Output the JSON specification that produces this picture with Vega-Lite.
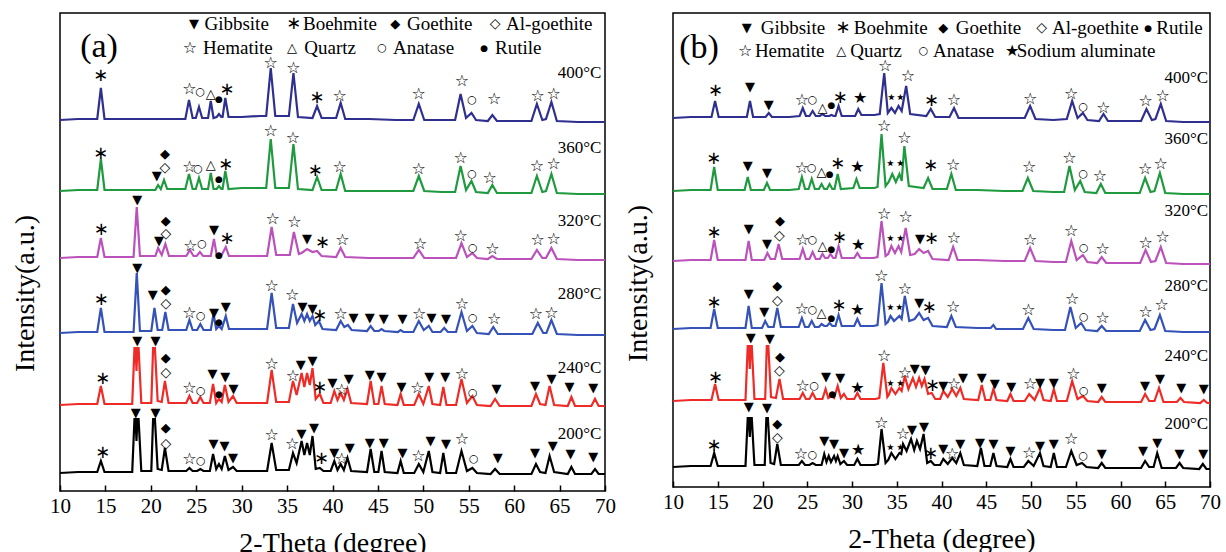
{
  "$schema": "https://vega.github.io/schema/vega-lite/v6.json",
  "background": "white",
  "padding": {"left": 10, "top": 12, "right": 0, "bottom": 0},
  "spacing": 6,
  "config": {
    "view": {"stroke": "black", "strokeWidth": 1.5},
    "axisX": {"labelFont": "Liberation Serif", "labelFontSize": 21, "labelColor": "black", "titleFont": "Liberation Serif", "titleFontSize": 28, "titleFontWeight": "normal", "titleColor": "black", "tickColor": "black", "tickSize": -6, "tickWidth": 1.5, "domain": false, "grid": false, "labelPadding": 10, "titlePadding": 13, "labelFlush": false},
    "axisY": {"labels": false, "ticks": false, "domain": false, "grid": false, "titleFont": "Liberation Serif", "titleFontSize": 28, "titleFontWeight": "normal", "titleColor": "black"}
  },
  "resolve": {"scale": {"x": "independent", "y": "independent"}},
  "datasets": {
    "traces": [
      {"p": "a", "t": "400°C", "pts": [[10,371],[12,372],[14.1,372],[14.5,403],[14.9,372],[17,372],[20,372],[23.8,372],[24.2,391],[24.6,373],[24.95,373],[25.3,384],[25.65,373],[26.3,373],[26.6,390],[26.9,373],[27.25,374],[27.5,377],[27.75,374],[27.9,374],[28.2,393],[28.55,374],[30,374],[32,375],[32.7,375],[33.2,423],[33.7,375],[35.2,375],[35.7,418],[36.2,374],[37.8,373],[38.3,385],[38.8,373],[40.4,373],[40.9,388],[41.4,372],[44,372],[47,371],[48.9,371],[49.5,387],[50.1,371],[52,371],[53.5,371],[54.1,397],[54.7,373],[55.3,378],[55.8,371],[57.1,370],[57.6,376],[58.1,370],[60,370],[61.9,370],[62.5,387],[63.1,371],[63.5,372],[64.1,389],[64.7,370],[67,369],[70,369]]},
      {"p": "a", "t": "360°C", "pts": [[10,300],[12,301],[14.1,301],[14.5,332],[14.9,301],[17,301],[20.5,301],[20.8,306],[21.1,302],[21.45,311],[21.8,302],[23.8,302],[24.2,317],[24.6,302],[24.95,302],[25.3,313],[25.65,302],[26.3,302],[26.6,318],[26.9,302],[27.25,302],[27.5,305],[27.75,302],[27.9,302],[28.2,320],[28.55,302],[30,303],[32,303],[32.7,303],[33.2,352],[33.7,303],[35.2,303],[35.7,347],[36.2,302],[37.8,301],[38.3,314],[38.8,301],[40.4,301],[40.9,317],[41.4,300],[44,300],[47,300],[48.9,300],[49.5,315],[50.1,300],[52,299],[53.5,299],[54.1,325],[54.7,301],[55.3,310],[55.8,299],[57.1,298],[57.6,306],[58.1,298],[60,298],[61.9,298],[62.5,315],[63.1,299],[63.5,300],[64.1,317],[64.7,298],[67,297],[70,297]]},
      {"p": "a", "t": "320°C", "pts": [[10,233],[12,234],[14.1,234],[14.5,253],[14.9,234],[17,234],[18.1,234],[18.45,284],[18.8,235],[20.5,235],[20.8,243],[21.2,236],[21.6,247],[22.0,235],[23.9,235],[24.3,241],[24.7,235],[25.05,235],[25.4,239],[25.75,235],[26.6,235],[26.95,252],[27.25,236],[27.5,237],[27.8,236],[28.25,244],[28.6,235],[30,235],[32,235],[32.8,235],[33.3,264],[33.8,236],[35.3,236],[35.75,259],[36.3,237],[36.6,238],[37.2,242],[37.8,239],[38.3,240],[38.8,235],[40.4,234],[40.9,243],[41.4,234],[44,233],[47,233],[48.9,233],[49.5,241],[50.1,233],[52,233],[53.6,233],[54.2,248],[54.8,234],[55.4,238],[55.9,233],[57.1,232],[57.6,235],[58.1,232],[60,232],[61.9,232],[62.5,241],[63.1,233],[63.5,233],[64.1,243],[64.7,232],[67,231],[70,231]]},
      {"p": "a", "t": "280°C", "pts": [[10,158],[12,159],[14.1,159],[14.5,183],[14.9,159],[17,159],[18.1,159],[18.45,218],[18.8,160],[20.05,160],[20.4,183],[20.75,161],[21.25,161],[21.6,179],[21.95,161],[23.9,161],[24.25,171],[24.6,161],[25.1,161],[25.45,167],[25.8,161],[26.6,161],[26.9,177],[27.2,162],[27.5,165],[27.8,162],[28.25,175],[28.6,162],[30,162],[32,162],[32.8,162],[33.3,198],[33.8,163],[35.2,163],[35.65,187],[36.1,168],[36.6,177],[36.9,170],[37.2,177],[37.5,170],[37.8,175],[38.1,166],[38.5,170],[38.9,162],[40.4,161],[40.9,170],[41.3,164],[41.7,166],[42.1,161],[43.8,160],[44.2,165],[44.6,160],[45.1,160],[45.4,162],[45.7,160],[47.2,159],[47.5,161],[47.8,159],[48.9,159],[49.5,170],[50.05,161],[50.6,165],[51.0,159],[51.9,159],[52.3,163],[52.7,159],[53.6,159],[54.2,179],[54.8,160],[55.4,165],[55.9,158],[57.2,157],[57.7,164],[58.2,157],[60,157],[62.0,157],[62.6,168],[63.2,158],[63.55,158],[64.1,171],[64.7,157],[67,156],[70,156]]},
      {"p": "a", "t": "240°C", "pts": [[10,86],[12,87],[14.1,87],[14.5,105],[14.9,87],[17,87],[17.95,87],[18.2,143],[18.32,143],[18.42,120],[18.52,143],[18.65,143],[18.95,88],[19.6,88],[20.05,88],[20.25,143],[20.45,143],[20.75,90],[21.2,89],[21.55,110],[21.95,88],[23.9,88],[24.25,95],[24.6,88],[25.1,88],[25.45,94],[25.8,88],[26.5,88],[26.85,107],[27.2,88],[27.5,92],[27.8,89],[28.15,106],[28.55,89],[29.05,95],[29.45,88],[30.5,88],[32,88],[32.8,88],[33.3,121],[33.8,89],[35.2,89],[35.65,110],[36.05,96],[36.6,118],[36.9,104],[37.2,118],[37.5,106],[37.8,123],[38.15,92],[38.6,97],[39.0,88],[39.8,88],[40.2,100],[40.55,91],[40.9,98],[41.25,91],[41.65,102],[42.05,88],[43.8,87],[44.2,110],[44.6,87],[45.05,87],[45.4,105],[45.75,87],[47.15,86],[47.5,97],[47.85,86],[49.0,86],[49.5,97],[50.0,87],[50.6,105],[51.0,87],[51.85,86],[52.2,104],[52.55,86],[53.6,86],[54.2,112],[54.8,88],[55.4,95],[55.9,86],[57.4,85],[57.9,92],[58.4,85],[60,85],[61.9,85],[62.4,97],[62.85,87],[63.45,86],[63.9,105],[64.4,86],[65.9,85],[66.3,94],[66.7,85],[68.5,85],[68.9,92],[69.3,85],[70,85]]},
      {"p": "a", "t": "200°C", "pts": [[10,18],[12,19],[14.1,19],[14.5,30],[14.9,19],[17,19],[17.95,19],[18.2,72],[18.32,72],[18.42,50],[18.52,72],[18.65,72],[18.95,20],[19.6,20],[20.05,20],[20.25,72],[20.45,72],[20.75,22],[21.2,21],[21.55,43],[21.95,20],[23.9,20],[24.25,23],[24.6,20],[25.1,20],[25.45,22],[25.8,20],[26.5,20],[26.85,37],[27.2,22],[27.5,27],[27.8,22],[28.15,35],[28.55,21],[29.05,24],[29.45,20],[30.5,20],[32,20],[32.8,20],[33.3,48],[33.8,21],[35.2,21],[35.65,38],[36.05,28],[36.6,50],[36.9,36],[37.2,48],[37.5,36],[37.8,55],[38.15,22],[38.6,23],[39.0,20],[39.8,20],[40.2,30],[40.55,21],[40.9,27],[41.25,21],[41.65,33],[42.05,20],[43.8,19],[44.2,42],[44.6,19],[45.05,19],[45.4,40],[45.75,19],[47.15,18],[47.5,30],[47.85,18],[49.0,18],[49.5,27],[50.0,19],[50.6,40],[51.0,19],[51.85,18],[52.2,38],[52.55,18],[53.6,18],[54.2,40],[54.8,20],[55.4,23],[55.9,18],[57.4,17],[57.9,22],[58.4,17],[60,17],[61.9,17],[62.4,27],[62.85,19],[63.45,18],[63.9,35],[64.4,19],[65.9,17],[66.3,24],[66.7,17],[68.5,17],[68.9,22],[69.3,17],[70,17]]},
      {"p": "b", "t": "400°C", "pts": [[10,369],[12,370],[14.3,370],[14.7,386],[15.1,370],[17,370],[18.25,370],[18.6,386],[18.95,370],[20.35,370],[20.7,374],[21.05,370],[23,370],[24.15,371],[24.5,379],[24.85,371],[25.25,371],[25.6,376],[25.95,371],[26.4,371],[26.7,373],[27.0,371],[27.45,371],[27.7,372],[27.95,371],[28.15,371],[28.5,381],[28.85,371],[30.35,371],[30.7,378],[31.05,372],[32.5,372],[33.1,373],[33.6,414],[34.0,374],[34.4,379],[34.8,374],[35.2,381],[35.55,376],[36.05,401],[36.5,373],[38.3,371],[38.8,378],[39.3,370],[40.9,370],[41.4,379],[41.9,369],[44,369],[47,369],[49.3,369],[49.9,381],[50.5,368],[52.5,367],[54.0,368],[54.6,386],[55.2,369],[55.8,374],[56.3,367],[57.6,366],[58.1,373],[58.6,366],[60.5,366],[62.3,366],[62.9,378],[63.5,367],[63.9,368],[64.5,383],[65.1,366],[67,365],[70,365]]},
      {"p": "b", "t": "360°C", "pts": [[10,296],[12,297],[14.2,297],[14.6,320],[15.0,297],[17,297],[18.0,297],[18.35,310],[18.7,297],[20.15,297],[20.5,304],[20.85,297],[23,297],[24.05,298],[24.4,310],[24.75,298],[25.15,298],[25.5,308],[25.85,298],[26.3,298],[26.6,303],[26.9,298],[27.2,298],[27.5,303],[27.8,298],[28.05,298],[28.4,313],[28.75,298],[30.15,299],[30.5,308],[30.85,299],[32.5,299],[32.85,300],[33.3,353],[33.75,301],[34.1,305],[34.5,313],[34.9,305],[35.3,313],[35.55,306],[35.85,341],[36.35,301],[38.0,299],[38.5,309],[39.0,298],[40.6,298],[41.1,313],[41.6,297],[44,297],[47,296],[49.05,296],[49.65,309],[50.25,296],[52.5,295],[53.7,295],[54.3,321],[54.9,297],[55.5,306],[56.0,295],[57.3,294],[57.8,303],[58.3,294],[60.5,294],[62.15,294],[62.75,309],[63.35,295],[63.8,296],[64.4,314],[65.0,294],[67,293],[70,293]]},
      {"p": "b", "t": "320°C", "pts": [[10,226],[12,227],[14.2,227],[14.6,247],[15.0,227],[17,227],[18.1,227],[18.45,246],[18.8,227],[20.2,227],[20.55,234],[20.9,228],[21.4,228],[21.8,243],[22.2,228],[24.15,228],[24.5,238],[24.85,228],[25.25,228],[25.6,235],[25.95,228],[26.4,228],[26.7,233],[27.0,229],[27.3,229],[27.6,233],[27.9,229],[28.15,229],[28.5,241],[28.85,229],[30.25,229],[30.6,234],[30.95,229],[32.4,229],[32.85,230],[33.3,266],[33.75,231],[34.05,233],[34.4,241],[34.8,234],[35.2,241],[35.5,235],[36.0,259],[36.5,232],[37.0,233],[37.5,238],[38.0,234],[38.5,236],[39.0,228],[40.8,227],[41.3,240],[41.8,227],[44,227],[47,226],[49.3,226],[49.9,239],[50.5,226],[52.5,225],[53.9,225],[54.5,246],[55.1,227],[55.8,232],[56.3,225],[57.4,224],[57.9,230],[58.4,224],[60.5,224],[62.2,224],[62.8,237],[63.4,225],[63.9,226],[64.5,240],[65.1,224],[67,223],[70,223]]},
      {"p": "b", "t": "280°C", "pts": [[10,158],[12,159],[14.2,159],[14.6,178],[15.0,159],[17,159],[18.1,159],[18.45,181],[18.8,159],[19.95,159],[20.3,166],[20.65,160],[21.25,160],[21.65,179],[22.05,160],[24.05,160],[24.4,169],[24.75,160],[25.15,160],[25.5,166],[25.85,160],[26.3,160],[26.6,163],[26.9,161],[27.2,161],[27.5,164],[27.8,161],[28.15,161],[28.5,172],[28.85,161],[30.25,161],[30.6,168],[30.95,161],[32.4,161],[32.85,162],[33.3,204],[33.75,163],[34.0,165],[34.3,171],[34.7,166],[35.3,171],[35.55,168],[35.9,191],[36.4,166],[37.0,168],[37.5,174],[38.0,167],[38.5,169],[39.0,161],[40.6,160],[41.1,171],[41.6,160],[44,159],[45.5,159],[45.8,162],[46.1,158],[49.1,158],[49.7,169],[50.3,158],[52.5,157],[53.8,157],[54.4,180],[55.0,159],[55.6,164],[56.1,157],[57.4,156],[57.9,161],[58.4,156],[60.5,156],[62.15,156],[62.75,167],[63.35,157],[63.8,158],[64.4,172],[65.0,156],[67,155],[70,155]]},
      {"p": "b", "t": "240°C", "pts": [[10,86],[12,87],[14.3,87],[14.7,103],[15.1,87],[17,87],[18.1,87],[18.35,141],[18.48,141],[18.58,118],[18.68,141],[18.8,141],[19.1,88],[19.8,88],[20.3,88],[20.48,141],[20.65,141],[20.95,90],[21.5,89],[21.9,108],[22.3,88],[24.15,88],[24.5,94],[24.85,88],[25.25,88],[25.6,94],[25.95,88],[26.7,88],[27.05,98],[27.35,89],[27.7,91],[28.0,89],[28.4,101],[28.75,89],[29.1,93],[29.45,88],[30.25,88],[30.6,94],[30.95,88],[32.6,88],[33.05,89],[33.5,124],[33.95,90],[34.1,92],[34.4,99],[34.85,93],[35.3,99],[35.55,96],[35.9,111],[36.3,98],[36.8,109],[37.15,100],[37.5,109],[37.8,101],[38.1,108],[38.5,93],[38.9,94],[39.3,88],[39.85,88],[40.2,96],[40.7,90],[41.2,98],[41.65,91],[42.1,99],[42.5,88],[44.1,87],[44.5,102],[44.9,87],[45.45,87],[45.8,98],[46.15,87],[47.35,86],[47.7,93],[48.05,86],[49.3,86],[49.8,93],[50.4,87],[51.0,99],[51.4,87],[52.2,86],[52.55,98],[52.9,86],[54.0,86],[54.6,106],[55.2,88],[55.8,91],[56.3,86],[57.5,85],[57.9,90],[58.3,85],[60.5,85],[62.3,85],[62.75,93],[63.2,86],[63.8,86],[64.3,99],[64.8,85],[66.3,85],[66.7,89],[67.1,85],[68.9,84],[69.3,87],[69.7,84],[70,84]]},
      {"p": "b", "t": "200°C", "pts": [[10,20],[12,21],[14.2,21],[14.6,34],[15.0,21],[17,21],[18.1,21],[18.35,69],[18.48,69],[18.58,50],[18.68,69],[18.8,69],[19.1,22],[19.8,22],[20.25,22],[20.43,69],[20.6,69],[20.9,24],[21.3,23],[21.65,43],[22.05,22],[24.05,22],[24.4,26],[24.75,22],[25.25,22],[25.6,24],[25.95,22],[26.6,22],[26.9,33],[27.15,25],[27.4,31],[27.65,25],[28.0,31],[28.2,26],[28.4,31],[28.7,23],[29.1,26],[29.45,22],[30.25,22],[30.6,28],[30.95,22],[32.5,22],[32.9,23],[33.3,58],[33.75,24],[34.05,27],[34.4,34],[34.85,28],[35.3,34],[35.5,33],[35.7,43],[36.1,36],[36.6,48],[36.95,37],[37.25,46],[37.6,38],[38.0,53],[38.4,24],[38.8,26],[39.2,22],[39.85,22],[40.2,28],[40.7,23],[41.2,29],[41.65,24],[42.1,34],[42.5,22],[44.0,21],[44.4,39],[44.8,21],[45.45,21],[45.8,34],[46.15,21],[47.35,20],[47.7,28],[48.05,20],[49.2,20],[49.7,26],[50.3,21],[51.0,34],[51.4,21],[52.2,20],[52.55,34],[52.9,20],[53.9,20],[54.5,36],[55.1,22],[55.7,24],[56.2,20],[57.5,19],[57.9,24],[58.3,19],[60.5,19],[62.3,19],[62.75,26],[63.2,20],[63.7,20],[64.1,34],[64.6,19],[66.2,19],[66.6,24],[67.0,19],[68.8,18],[69.2,23],[69.6,18],[70,18]]}
    ],
    "marks": [
      {"p": "a", "m": [[24.75,467,"▼"],[35.75,467,"∗"],[46.9,467,"◆"],[57.9,467,"◇"],[24.3,443,"☆"],[35.55,443,"△"],[45.45,443,"○"],[56.7,443,"●"]]},
      {"p": "a", "m": [[14.5,415,"∗"],[24.25,402,"☆"],[25.45,399,"○"],[26.6,397,"△"],[27.5,392,"●"],[28.4,401,"∗"],[33.2,428,"☆"],[35.7,423,"☆"],[38.3,393,"∗"],[40.8,395,"☆"],[49.5,397,"☆"],[54.25,410,"☆"],[55.35,391,"○"],[57.8,392,"☆"],[62.6,395,"☆"],[64.35,397,"☆"]]},
      {"p": "a", "m": [[14.5,337,"∗"],[20.65,315,"▼"],[21.55,337,"◆"],[21.55,323,"◇"],[24.25,324,"☆"],[25.2,322,"○"],[26.6,326,"△"],[27.5,312,"●"],[28.25,326,"∗"],[33.2,360,"☆"],[35.65,353,"☆"],[38.1,320,"∗"],[40.8,324,"☆"],[49.5,322,"☆"],[54.1,333,"☆"],[55.35,317,"○"],[57.3,313,"☆"],[62.5,325,"☆"],[64.35,327,"☆"]]},
      {"p": "a", "m": [[14.55,261,"∗"],[18.5,291,"▼"],[20.9,250,"▼"],[21.65,270,"◆"],[21.65,257,"◇"],[24.35,245,"☆"],[25.65,247,"○"],[26.95,261,"▼"],[27.5,236,"●"],[28.4,252,"∗"],[33.4,272,"☆"],[35.8,269,"☆"],[37.2,252,"▼"],[38.9,248,"∗"],[41.1,251,"☆"],[49.65,247,"☆"],[54.1,255,"☆"],[55.45,243,"○"],[57.6,242,"☆"],[62.6,251,"☆"],[64.35,252,"☆"]]},
      {"p": "a", "m": [[14.55,191,"∗"],[18.5,223,"▼"],[20.2,196,"▼"],[21.65,201,"◆"],[21.65,187,"◇"],[24.25,178,"☆"],[25.5,175,"○"],[26.95,178,"▼"],[27.5,169,"●"],[28.25,184,"▼"],[33.3,205,"☆"],[35.55,196,"☆"],[36.7,184,"▼"],[37.8,182,"▼"],[38.6,175,"∗"],[40.9,177,"☆"],[42.3,173,"▼"],[44.1,173,"▼"],[45.65,172,"▼"],[47.7,172,"▼"],[49.55,177,"☆"],[50.9,173,"▼"],[52.5,172,"▼"],[54.25,187,"☆"],[55.45,173,"○"],[57.8,172,"☆"],[62.4,177,"☆"],[64.1,178,"☆"]]},
      {"p": "a", "m": [[14.7,112,"∗"],[18.5,150,"▼"],[20.5,150,"▼"],[21.65,133,"◆"],[21.65,118,"◇"],[24.25,103,"☆"],[25.5,100,"○"],[26.8,117,"▼"],[27.5,97,"●"],[28.2,114,"▼"],[29.1,102,"▼"],[33.3,127,"☆"],[35.65,115,"☆"],[36.5,126,"▼"],[37.8,130,"▼"],[38.6,103,"∗"],[40.0,108,"▼"],[41.0,101,"☆"],[41.8,112,"▼"],[44.1,116,"▼"],[45.4,114,"▼"],[47.6,104,"▼"],[49.35,103,"☆"],[50.65,114,"▼"],[52.4,114,"▼"],[54.25,117,"☆"],[55.45,98,"○"],[58.05,102,"▼"],[62.3,105,"▼"],[64.1,112,"▼"],[66.1,104,"▼"],[68.7,103,"▼"]]},
      {"p": "a", "m": [[14.7,38,"∗"],[18.35,78,"▼"],[20.5,78,"▼"],[21.65,63,"◆"],[21.65,47,"◇"],[24.25,32,"☆"],[25.5,30,"○"],[26.9,47,"▼"],[28.1,45,"▼"],[29.05,33,"▼"],[33.3,56,"☆"],[35.55,47,"☆"],[36.6,57,"▼"],[37.95,63,"▼"],[38.8,32,"∗"],[40.2,38,"▼"],[41.0,32,"☆"],[41.9,43,"▼"],[44.1,48,"▼"],[45.65,48,"▼"],[47.7,38,"▼"],[49.45,35,"☆"],[50.8,50,"▼"],[52.5,47,"▼"],[54.25,52,"☆"],[55.55,32,"○"],[58.2,33,"▼"],[62.3,38,"▼"],[64.25,45,"▼"],[66.2,37,"▼"],[68.7,34,"▼"]]},
      {"p": "b", "m": [[18.25,459,"▼"],[29.0,459,"∗"],[40.2,459,"◆"],[51.2,459,"◇"],[63.1,459,"●"],[18.05,436,"☆"],[28.8,436,"△"],[38.0,436,"○"],[47.9,436,"★"]]},
      {"p": "b", "m": [[14.75,396,"∗"],[18.6,400,"▼"],[20.7,382,"▼"],[24.4,387,"☆"],[25.6,387,"○"],[26.7,379,"△"],[27.7,382,"●"],[28.7,389,"∗"],[30.9,389,"★"],[33.7,421,"☆"],[34.4,389,"⋆"],[35.4,389,"⋆"],[36.25,411,"☆"],[38.9,386,"∗"],[41.4,387,"☆"],[49.9,388,"☆"],[54.5,393,"☆"],[55.85,380,"○"],[58.1,379,"☆"],[62.8,386,"☆"],[64.7,391,"☆"]]},
      {"p": "b", "m": [[14.55,328,"∗"],[18.35,321,"▼"],[20.5,314,"▼"],[24.4,319,"☆"],[25.5,319,"○"],[26.6,315,"△"],[27.5,313,"●"],[28.4,323,"∗"],[30.6,320,"★"],[33.6,361,"☆"],[34.3,323,"⋆"],[35.4,323,"⋆"],[35.85,349,"☆"],[38.8,321,"∗"],[41.3,322,"☆"],[49.8,320,"☆"],[54.3,329,"☆"],[55.85,313,"○"],[57.7,311,"☆"],[62.75,318,"☆"],[64.5,323,"☆"]]},
      {"p": "b", "m": [[14.6,254,"∗"],[18.45,258,"▼"],[20.5,243,"▼"],[21.95,266,"◆"],[21.9,251,"◇"],[24.5,247,"☆"],[25.6,247,"○"],[26.7,241,"△"],[27.7,238,"●"],[28.6,249,"∗"],[30.7,242,"★"],[33.6,273,"☆"],[34.3,248,"⋆"],[35.4,248,"⋆"],[36.0,270,"☆"],[37.6,248,"▼"],[38.9,248,"∗"],[41.4,249,"☆"],[49.9,247,"☆"],[54.5,256,"☆"],[55.9,239,"○"],[58.0,238,"☆"],[62.8,244,"☆"],[64.7,250,"☆"]]},
      {"p": "b", "m": [[14.6,184,"∗"],[18.45,193,"▼"],[20.2,175,"▼"],[21.65,201,"◆"],[21.65,186,"◇"],[24.4,178,"☆"],[25.6,177,"○"],[26.6,174,"△"],[27.7,169,"●"],[28.55,181,"∗"],[30.6,177,"★"],[33.3,211,"☆"],[34.3,179,"⋆"],[35.3,179,"⋆"],[35.9,198,"☆"],[37.5,184,"▼"],[38.65,179,"∗"],[41.3,180,"☆"],[49.7,177,"☆"],[54.6,188,"☆"],[55.9,170,"○"],[58.0,169,"☆"],[62.8,175,"☆"],[64.6,182,"☆"]]},
      {"p": "b", "m": [[14.75,109,"∗"],[18.7,149,"▼"],[20.8,148,"▼"],[21.95,130,"◆"],[21.9,116,"◇"],[24.5,101,"☆"],[25.8,101,"○"],[27.1,110,"▼"],[27.8,93,"●"],[28.7,109,"▼"],[30.6,99,"★"],[33.6,131,"☆"],[34.3,103,"⋆"],[35.4,103,"⋆"],[35.9,114,"☆"],[37.0,118,"▼"],[38.2,117,"▼"],[39.0,101,"∗"],[40.2,101,"▼"],[41.4,103,"☆"],[42.4,109,"▼"],[44.5,109,"▼"],[45.95,103,"▼"],[47.8,100,"▼"],[49.9,103,"☆"],[51.0,104,"▼"],[52.55,104,"▼"],[54.75,113,"☆"],[55.9,96,"○"],[57.9,99,"▼"],[62.75,101,"▼"],[64.4,108,"▼"],[66.8,99,"▼"],[69.3,98,"▼"]]},
      {"p": "b", "m": [[14.6,41,"∗"],[18.45,80,"▼"],[20.5,79,"▼"],[21.65,63,"◆"],[21.65,49,"◇"],[24.3,33,"☆"],[25.6,32,"○"],[26.9,46,"▼"],[28.0,43,"▼"],[29.1,34,"▼"],[30.7,37,"★"],[33.3,64,"☆"],[34.3,39,"⋆"],[35.4,39,"⋆"],[35.7,53,"☆"],[36.7,57,"▼"],[38.05,60,"▼"],[38.8,33,"∗"],[40.2,38,"▼"],[41.2,33,"☆"],[42.1,43,"▼"],[44.3,44,"▼"],[45.8,43,"▼"],[47.7,36,"▼"],[49.8,34,"☆"],[51.0,41,"▼"],[52.55,43,"▼"],[54.5,48,"☆"],[55.85,31,"○"],[57.9,33,"▼"],[62.5,36,"▼"],[64.1,44,"▼"],[66.6,33,"▼"],[69.25,33,"▼"]]}
    ],
    "texts": [
      {"p": "a", "k": "t", "x": 69.6, "y": 418, "s": "400°C"},
      {"p": "a", "k": "t", "x": 69.6, "y": 343, "s": "360°C"},
      {"p": "a", "k": "t", "x": 69.6, "y": 270, "s": "320°C"},
      {"p": "a", "k": "t", "x": 69.6, "y": 197, "s": "280°C"},
      {"p": "a", "k": "t", "x": 69.6, "y": 123, "s": "240°C"},
      {"p": "a", "k": "t", "x": 69.6, "y": 57, "s": "200°C"},
      {"p": "b", "k": "t", "x": 69.8, "y": 409, "s": "400°C"},
      {"p": "b", "k": "t", "x": 69.8, "y": 348, "s": "360°C"},
      {"p": "b", "k": "t", "x": 69.8, "y": 276, "s": "320°C"},
      {"p": "b", "k": "t", "x": 69.8, "y": 201, "s": "280°C"},
      {"p": "b", "k": "t", "x": 69.8, "y": 131, "s": "240°C"},
      {"p": "b", "k": "t", "x": 69.8, "y": 63, "s": "200°C"},
      {"p": "a", "k": "l", "x": 25.9, "y": 467, "s": "Gibbsite"},
      {"p": "a", "k": "l", "x": 36.75, "y": 467, "s": "Boehmite"},
      {"p": "a", "k": "l", "x": 48.2, "y": 467, "s": "Goethite"},
      {"p": "a", "k": "l", "x": 59.1, "y": 467, "s": "Al-goethite"},
      {"p": "a", "k": "l", "x": 25.75, "y": 443, "s": "Hematite"},
      {"p": "a", "k": "l", "x": 36.9, "y": 443, "s": "Quartz"},
      {"p": "a", "k": "l", "x": 46.65, "y": 443, "s": "Anatase"},
      {"p": "a", "k": "l", "x": 57.9, "y": 443, "s": "Rutile"},
      {"p": "b", "k": "l", "x": 19.8, "y": 459, "s": "Gibbsite"},
      {"p": "b", "k": "l", "x": 30.2, "y": 459, "s": "Boehmite"},
      {"p": "b", "k": "l", "x": 41.6, "y": 459, "s": "Goethite"},
      {"p": "b", "k": "l", "x": 52.35, "y": 459, "s": "Al-goethite"},
      {"p": "b", "k": "l", "x": 64.0, "y": 459, "s": "Rutile"},
      {"p": "b", "k": "l", "x": 19.15, "y": 436, "s": "Hematite"},
      {"p": "b", "k": "l", "x": 29.8, "y": 436, "s": "Quartz"},
      {"p": "b", "k": "l", "x": 39.05, "y": 436, "s": "Anatase"},
      {"p": "b", "k": "l", "x": 48.4, "y": 436, "s": "Sodium aluminate"},
      {"p": "a", "k": "n", "x": 14.3, "y": 444, "s": "(a)"},
      {"p": "b", "k": "n", "x": 12.9, "y": 439, "s": "(b)"}
    ]
  },
  "hconcat": [
    {
      "width": 545, "height": 478,
      "layer": [
        {
          "data": {"name": "traces"},
          "transform": [{"filter": "datum.p === 'a'"}, {"flatten": ["pts"]}],
          "mark": {"type": "line", "strokeWidth": 2.2},
          "encoding": {
            "x": {"field": "pts[0]", "type": "quantitative", "title": "2-Theta (degree)", "scale": {"domain": [10, 70], "nice": false, "zero": false}, "axis": {"values": [10,12.5,15,17.5,20,22.5,25,27.5,30,32.5,35,37.5,40,42.5,45,47.5,50,52.5,55,57.5,60,62.5,65,67.5,70], "labelExpr": "datum.value % 5 === 0 ? datum.label : ''"}},
            "y": {"field": "pts[1]", "type": "quantitative", "title": "Intensity(a.u.)", "scale": {"domain": [0, 478], "nice": false, "zero": false}, "axis": {"titleX": -35, "titleY": 280, "titleBaseline": "middle", "titleAngle": -90}},
            "color": {"field": "t", "type": "nominal", "legend": null, "scale": {"domain": ["400°C", "360°C", "320°C", "280°C", "240°C", "200°C"], "range": ["#2e2f8e", "#1f9a3f", "#bb52bb", "#3452b8", "#ee2b26", "#000000"]}}
          }
        },
        {
          "data": {"name": "marks"},
          "transform": [{"filter": "datum.p === 'a'"}, {"flatten": ["m"]}],
          "mark": {"type": "text", "font": "DejaVu Sans", "baseline": "middle", "align": "center", "color": "black"},
          "encoding": {
            "x": {"field": "m[0]", "type": "quantitative", "title": "2-Theta (degree)", "scale": {"domain": [10, 70], "nice": false, "zero": false}},
            "y": {"field": "m[1]", "type": "quantitative", "title": "Intensity(a.u.)", "scale": {"domain": [0, 478], "nice": false, "zero": false}},
            "text": {"field": "m[2]"},
            "size": {"condition": [{"test": "datum.m[2] === '∗'", "value": 18}, {"test": "datum.m[2] === '●'", "value": 9}, {"test": "datum.m[2] === '○'", "value": 11}, {"test": "datum.m[2] === '☆' || datum.m[2] === '★'", "value": 16}, {"test": "datum.m[2] === '⋆'", "value": 18}, {"test": "datum.m[2] === '◇'", "value": 14}], "value": 13}
          }
        },
        {
          "data": {"name": "texts"},
          "transform": [{"filter": "datum.p === 'a' && datum.k === 't'"}],
          "mark": {"type": "text", "font": "Liberation Serif", "fontSize": 17, "align": "right", "baseline": "middle", "color": "black"},
          "encoding": {
            "x": {"field": "x", "type": "quantitative", "title": "2-Theta (degree)", "scale": {"domain": [10, 70], "nice": false, "zero": false}},
            "y": {"field": "y", "type": "quantitative", "title": "Intensity(a.u.)", "scale": {"domain": [0, 478], "nice": false, "zero": false}},
            "text": {"field": "s"}
          }
        },
        {
          "data": {"name": "texts"},
          "transform": [{"filter": "datum.p === 'a' && datum.k === 'l'"}],
          "mark": {"type": "text", "font": "Liberation Serif", "fontSize": 19, "align": "left", "baseline": "middle", "color": "black"},
          "encoding": {
            "x": {"field": "x", "type": "quantitative", "title": "2-Theta (degree)", "scale": {"domain": [10, 70], "nice": false, "zero": false}},
            "y": {"field": "y", "type": "quantitative", "title": "Intensity(a.u.)", "scale": {"domain": [0, 478], "nice": false, "zero": false}},
            "text": {"field": "s"}
          }
        },
        {
          "data": {"name": "texts"},
          "transform": [{"filter": "datum.p === 'a' && datum.k === 'n'"}],
          "mark": {"type": "text", "font": "Liberation Serif", "fontSize": 34, "align": "center", "baseline": "middle", "color": "black"},
          "encoding": {
            "x": {"field": "x", "type": "quantitative", "title": "2-Theta (degree)", "scale": {"domain": [10, 70], "nice": false, "zero": false}},
            "y": {"field": "y", "type": "quantitative", "title": "Intensity(a.u.)", "scale": {"domain": [0, 478], "nice": false, "zero": false}},
            "text": {"field": "s"}
          }
        }
      ]
    },
    {
      "width": 537, "height": 474,
      "layer": [
        {
          "data": {"name": "traces"},
          "transform": [{"filter": "datum.p === 'b'"}, {"flatten": ["pts"]}],
          "mark": {"type": "line", "strokeWidth": 2.2},
          "encoding": {
            "x": {"field": "pts[0]", "type": "quantitative", "title": "2-Theta (degree)", "scale": {"domain": [10, 70], "nice": false, "zero": false}, "axis": {"values": [10,12.5,15,17.5,20,22.5,25,27.5,30,32.5,35,37.5,40,42.5,45,47.5,50,52.5,55,57.5,60,62.5,65,67.5,70], "labelExpr": "datum.value % 5 === 0 ? datum.label : ''"}},
            "y": {"field": "pts[1]", "type": "quantitative", "title": "Intensity(a.u.)", "scale": {"domain": [0, 474], "nice": false, "zero": false}, "axis": {"titleX": -35, "titleY": 270, "titleBaseline": "middle", "titleAngle": -90}},
            "color": {"field": "t", "type": "nominal", "legend": null, "scale": {"domain": ["400°C", "360°C", "320°C", "280°C", "240°C", "200°C"], "range": ["#2e2f8e", "#1f9a3f", "#bb52bb", "#3452b8", "#ee2b26", "#000000"]}}
          }
        },
        {
          "data": {"name": "marks"},
          "transform": [{"filter": "datum.p === 'b'"}, {"flatten": ["m"]}],
          "mark": {"type": "text", "font": "DejaVu Sans", "baseline": "middle", "align": "center", "color": "black"},
          "encoding": {
            "x": {"field": "m[0]", "type": "quantitative", "title": "2-Theta (degree)", "scale": {"domain": [10, 70], "nice": false, "zero": false}},
            "y": {"field": "m[1]", "type": "quantitative", "title": "Intensity(a.u.)", "scale": {"domain": [0, 474], "nice": false, "zero": false}},
            "text": {"field": "m[2]"},
            "size": {"condition": [{"test": "datum.m[2] === '∗'", "value": 18}, {"test": "datum.m[2] === '●'", "value": 9}, {"test": "datum.m[2] === '○'", "value": 11}, {"test": "datum.m[2] === '☆' || datum.m[2] === '★'", "value": 16}, {"test": "datum.m[2] === '⋆'", "value": 18}, {"test": "datum.m[2] === '◇'", "value": 14}], "value": 13}
          }
        },
        {
          "data": {"name": "texts"},
          "transform": [{"filter": "datum.p === 'b' && datum.k === 't'"}],
          "mark": {"type": "text", "font": "Liberation Serif", "fontSize": 17, "align": "right", "baseline": "middle", "color": "black"},
          "encoding": {
            "x": {"field": "x", "type": "quantitative", "title": "2-Theta (degree)", "scale": {"domain": [10, 70], "nice": false, "zero": false}},
            "y": {"field": "y", "type": "quantitative", "title": "Intensity(a.u.)", "scale": {"domain": [0, 474], "nice": false, "zero": false}},
            "text": {"field": "s"}
          }
        },
        {
          "data": {"name": "texts"},
          "transform": [{"filter": "datum.p === 'b' && datum.k === 'l'"}],
          "mark": {"type": "text", "font": "Liberation Serif", "fontSize": 19, "align": "left", "baseline": "middle", "color": "black"},
          "encoding": {
            "x": {"field": "x", "type": "quantitative", "title": "2-Theta (degree)", "scale": {"domain": [10, 70], "nice": false, "zero": false}},
            "y": {"field": "y", "type": "quantitative", "title": "Intensity(a.u.)", "scale": {"domain": [0, 474], "nice": false, "zero": false}},
            "text": {"field": "s"}
          }
        },
        {
          "data": {"name": "texts"},
          "transform": [{"filter": "datum.p === 'b' && datum.k === 'n'"}],
          "mark": {"type": "text", "font": "Liberation Serif", "fontSize": 34, "align": "center", "baseline": "middle", "color": "black"},
          "encoding": {
            "x": {"field": "x", "type": "quantitative", "title": "2-Theta (degree)", "scale": {"domain": [10, 70], "nice": false, "zero": false}},
            "y": {"field": "y", "type": "quantitative", "title": "Intensity(a.u.)", "scale": {"domain": [0, 474], "nice": false, "zero": false}},
            "text": {"field": "s"}
          }
        }
      ]
    }
  ]
}
